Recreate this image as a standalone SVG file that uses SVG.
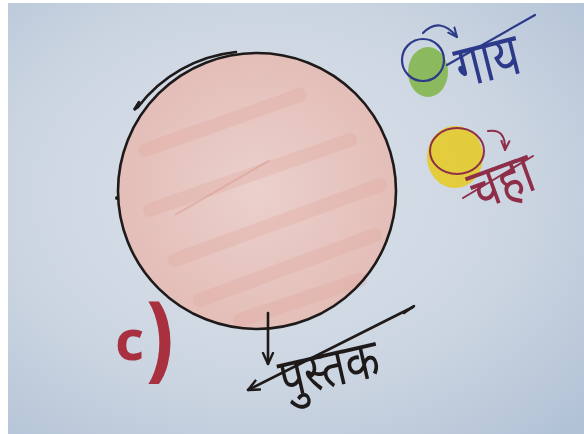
<svg xmlns="http://www.w3.org/2000/svg" width="584" height="434" viewBox="0 0 584 434">
  <defs>
    <radialGradient id="paper" cx="0.45" cy="0.45" r="0.75">
      <stop offset="0" stop-color="#dbe2ea"/>
      <stop offset="0.6" stop-color="#cbd5e1"/>
      <stop offset="1" stop-color="#b2c2d6"/>
    </radialGradient>
    <radialGradient id="pink" cx="0.5" cy="0.5" r="0.55">
      <stop offset="0" stop-color="#ebd0cc"/>
      <stop offset="1" stop-color="#e3bcb6"/>
    </radialGradient>
    <marker id="vhead-black" markerUnits="userSpaceOnUse" markerWidth="16" markerHeight="16" refX="12" refY="6" orient="auto" viewBox="0 0 16 12">
      <path d="M1,1 L12,6 L1,11" fill="none" stroke="#1e1a1a" stroke-width="2.4" stroke-linecap="round" stroke-linejoin="round"/>
    </marker>
    <marker id="vhead-blue" markerUnits="userSpaceOnUse" markerWidth="14" markerHeight="14" refX="10" refY="5" orient="auto" viewBox="0 0 14 10">
      <path d="M1,1 L10,5 L1,9" fill="none" stroke="#2d3a8a" stroke-width="2" stroke-linecap="round" stroke-linejoin="round"/>
    </marker>
    <marker id="vhead-maroon" markerUnits="userSpaceOnUse" markerWidth="14" markerHeight="14" refX="10" refY="5" orient="auto" viewBox="0 0 14 10">
      <path d="M1,1 L10,5 L1,9" fill="none" stroke="#8e2e48" stroke-width="2" stroke-linecap="round" stroke-linejoin="round"/>
    </marker>
  </defs>
  <style>
    .ink { fill: none; stroke: #1e1a1a; stroke-width: 2.6; stroke-linecap: round; }
    .blue { fill: none; stroke: #2d3a8a; stroke-width: 2.2; stroke-linecap: round; }
    .maroon { fill: none; stroke: #8e2e48; stroke-width: 2; stroke-linecap: round; }
    .hand { font-family: "Noto Sans Devanagari", "Noto Sans", "DejaVu Sans", sans-serif; }
  </style>

  <!-- paper -->
  <rect x="0" y="0" width="584" height="434" fill="url(#paper)"/>
  <rect x="0" y="0" width="8" height="434" fill="#ffffff"/>
  <rect x="0" y="0" width="584" height="3" fill="#ffffff"/>

  <!-- main pink circle (पुस्तक) -->
  <g id="book">
    <ellipse cx="257" cy="191" rx="139" ry="138" fill="url(#pink)"/>
    <g fill="none" stroke="#e0a69c" stroke-width="14" stroke-linecap="round" opacity="0.3">
      <path d="M145,150 L300,95"/>
      <path d="M150,210 L350,140"/>
      <path d="M175,260 L380,185"/>
      <path d="M200,300 L375,235"/>
      <path d="M240,320 L360,280"/>
    </g>
    <path d="M175,215 L270,160" fill="none" stroke="#d88f86" stroke-width="2" opacity="0.4"/>
    <ellipse cx="257" cy="191" rx="139" ry="138" class="ink"/>
    <path d="M138,107 A141,140 0 0 1 236,52" class="ink" stroke-width="2.2"/>
    <path d="M138,107 L134,110 L139,102" class="ink" stroke-width="1.6"/>
    <circle cx="117" cy="198" r="2" fill="#1e1a1a"/>
  </g>

  <!-- label c) -->
  <g id="label-c">
    <text x="115" y="360" class="hand" font-size="56" font-weight="bold" fill="#a8303f">c<tspan font-size="82" dy="10">)</tspan></text>
  </g>

  <!-- cow -->
  <g id="cow">
    <ellipse cx="428" cy="72" rx="20" ry="25" fill="#7fb547" opacity="0.85"/>
    <circle cx="423" cy="60" r="21" class="blue"/>
    <text transform="translate(461,88) rotate(-14) scale(1,1.3)" class="hand" font-size="46" fill="#2d3a8a">गाय</text>
  </g>

  <!-- tea -->
  <g id="tea">
    <ellipse cx="455" cy="157" rx="28" ry="31" fill="#e4cb2a" opacity="0.9"/>
    <ellipse cx="457" cy="151" rx="27" ry="23" class="maroon"/>
    <text transform="translate(477,211) rotate(-20) scale(1,1.25)" class="hand" font-size="46" fill="#8e2e48">चहा</text>
  </g>

  <!-- connectors -->
  <g id="connectors">
    <path d="M268,313 L268,364" class="ink" marker-end="url(#vhead-black)"/>
    <path d="M413,307 L248,390" class="ink" stroke-width="2" marker-end="url(#vhead-black)"/>
    <path d="M404,313 L414,306" class="ink" stroke-width="4.5"/>
    <path d="M423,33 Q440,16 457,37" class="blue" stroke-width="2" marker-end="url(#vhead-blue)"/>
    <path d="M447,65 L535,15" class="blue" stroke-width="1.8"/>
    <path d="M488,131 Q506,128 505,150" class="maroon" marker-end="url(#vhead-maroon)"/>
    <path d="M463,198 L533,156" class="maroon" stroke-width="1.8"/>
  </g>

  <!-- book label -->
  <g id="book-label">
    <text transform="translate(284,398) rotate(-13) scale(1,1.25)" class="hand" font-size="44" fill="#1e1a1a">पुस्तक</text>
  </g>
</svg>
